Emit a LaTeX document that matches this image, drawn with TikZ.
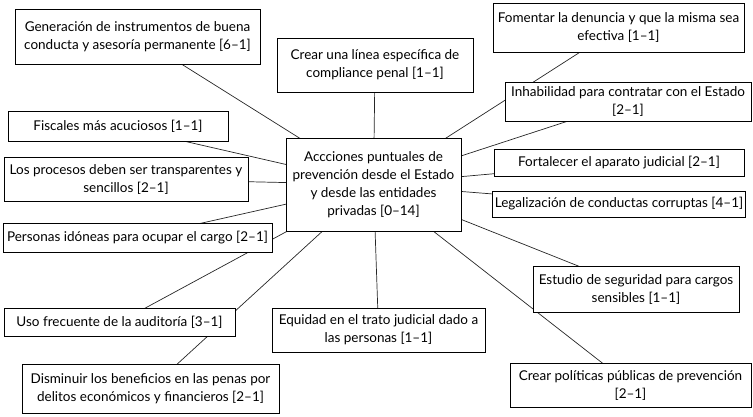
\documentclass[tikz,border=0pt]{standalone}
\usepackage{fontspec}
\setmainfont[Ligatures=TeX]{Lato}
\usetikzlibrary{backgrounds}
\tikzset{x=1pt, y=-1pt, % work in pixels of the original figure
box/.style={draw, fill=white, line width=1pt, align=center, inner sep=2pt, font=\fontsize{13.5}{18}\selectfont}, % every text box
link/.style={line width=0.7pt, draw=black!85}, % the connectors to the centre
}

\begin{document}
\begin{tikzpicture}
\useasboundingbox (0,0) rectangle (753,416);

% centre
\node[box, minimum width=175pt, minimum height=93pt] (acc) at (373.5,184.5) {Accciones puntuales de\\prevención desde el Estado\\y desde las entidades\\privadas [0–14]};

% left side
\node[box, minimum width=245pt, minimum height=55pt] (gen) at (137.5,36.5) {Generación de instrumentos de buena\\conducta y asesoría permanente [6–1]};
\node[box, minimum width=196pt, minimum height=54pt] (linea) at (375,65) {Crear una línea específica de\\compliance penal [1–1]};
\node[box, minimum width=220pt, minimum height=30pt] (fisc) at (118,126) {Fiscales más acuciosos [1–1]};
\node[box, minimum width=244pt, minimum height=44pt] (proc) at (126,179) {Los procesos deben ser transparentes y\\sencillos [2–1]};
\node[box, minimum width=269pt, minimum height=29pt] (pers) at (137.5,237.5) {Personas idóneas para ocupar el cargo [2–1]};
\node[box, minimum width=231pt, minimum height=28pt] (uso) at (119.5,322) {Uso frecuente de la auditoría [3–1]};
\node[box, minimum width=257pt, minimum height=49pt] (dism) at (150.5,388.5) {Disminuir los beneficios en las penas por\\delitos económicos y financieros [2–1]};
\node[box, minimum width=213pt, minimum height=44pt] (equi) at (378.5,330) {Equidad en el trato judicial dado a\\las personas [1–1]};

% right side
\node[box, minimum width=251pt, minimum height=49pt] (fom) at (618.5,27.5) {Fomentar la denuncia y que la misma sea\\efectiva [1–1]};
\node[box, minimum width=246pt, minimum height=39pt] (inha) at (628,101.5) {Inhabilidad para contratar con el Estado\\{[2–1]}};
\node[box, minimum width=250pt, minimum height=27pt] (fort) at (619,162.5) {Fortalecer el aparato judicial [2–1]};
\node[box, minimum width=250pt, minimum height=26pt] (legal) at (619,204) {Legalización de conductas corruptas [4–1]};
\node[box, minimum width=206pt, minimum height=46pt] (estu) at (636,289) {Estudio de seguridad para cargos\\sensibles [1–1]};
\node[box, minimum width=241pt, minimum height=44pt] (pol) at (630.5,385) {Crear políticas públicas de prevención\\{[2–1]}};

\begin{scope}[on background layer]
\draw[link]
(acc.center) edge (gen.center)
(acc.center) edge (linea.center)
(acc.center) edge (fisc.center)
(acc.center) edge (proc.center)
(acc.center) edge (pers.center)
(acc.center) edge (uso.center)
(acc.center) edge (dism.center)
(acc.center) edge (equi.center)
(acc.center) edge (fom.center)
(acc.center) edge (inha.center)
(acc.center) edge (fort.center)
(acc.center) edge (legal.center)
(acc.center) edge (estu.center)
(acc.center) edge (pol.center);
\end{scope}

\end{tikzpicture}
\end{document}
